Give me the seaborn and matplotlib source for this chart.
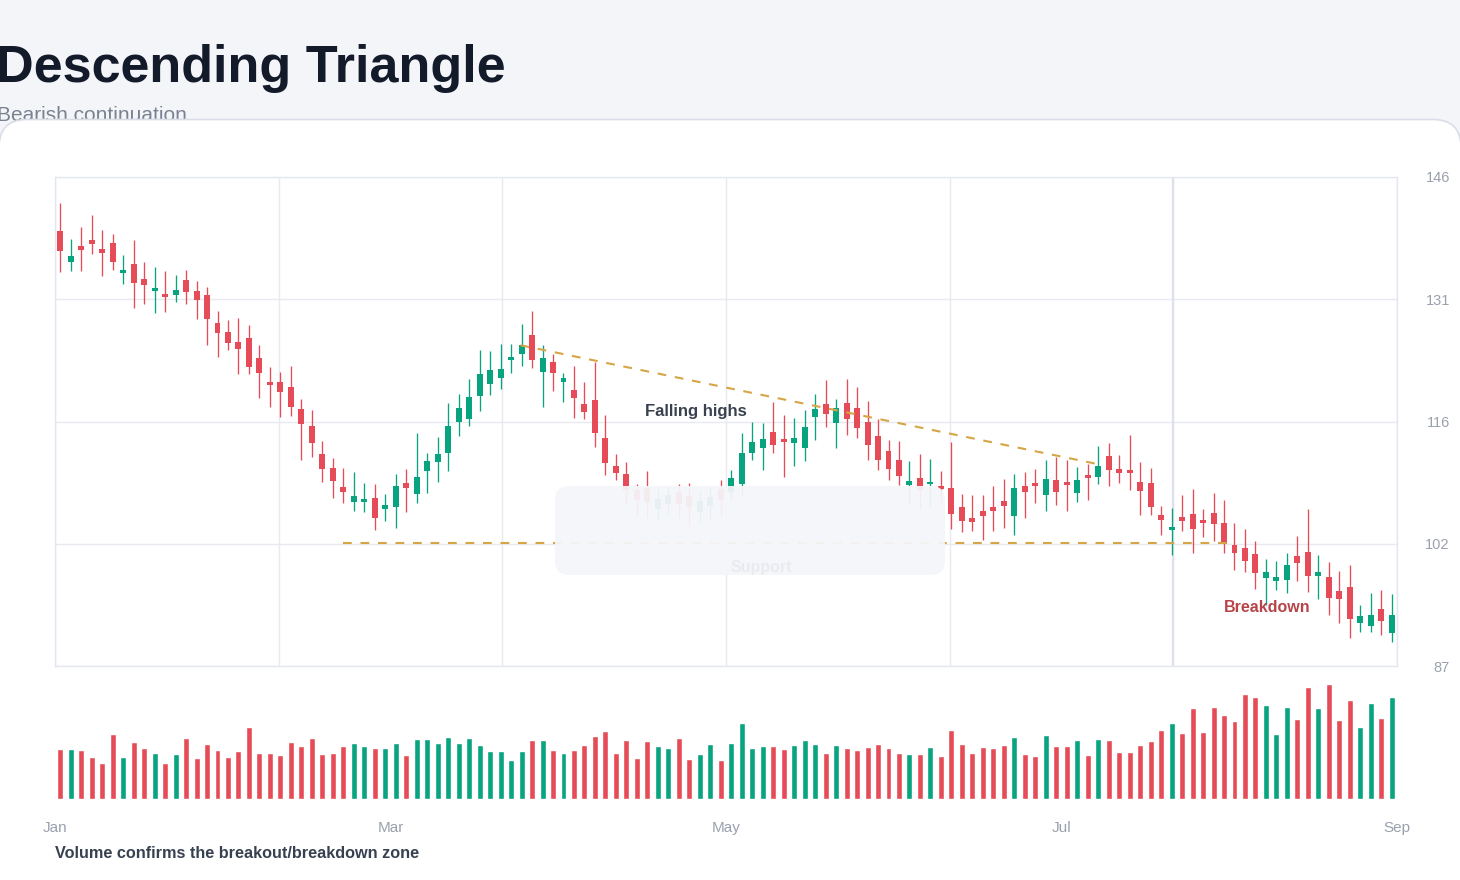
import numpy as np
import pandas as pd
import matplotlib
matplotlib.use("Agg")
import matplotlib.pyplot as plt
import seaborn as sns
from matplotlib.patches import FancyBboxPatch
from matplotlib.transforms import IdentityTransform

# ---------------- data ----------------
opens = [139.49, 135.79, 137.68, 138.40, 137.32, 138.04, 134.42, 135.51, 133.70, 132.25,
         131.89, 131.77, 133.57, 132.25, 131.77, 128.39, 127.30, 126.09, 126.58, 124.17,
         121.27, 121.27, 120.66, 118.01, 115.96, 112.58, 110.89, 108.60, 106.79, 106.79,
         107.27, 105.94, 106.19, 109.08, 107.75, 110.53, 111.61, 112.70, 116.44, 116.80,
         119.58, 121.02, 121.75, 123.92, 124.64, 126.94, 122.47, 123.68, 121.27, 120.30,
         118.61, 119.09, 114.51, 111.13, 110.16, 108.20, 108.50, 106.00, 106.50, 108.00,
         107.50, 105.60, 106.30, 108.30, 108.00, 108.96, 112.70, 113.30, 115.23, 114.39,
         113.91, 113.30, 117.04, 118.61, 116.32, 118.73, 118.13, 116.44, 114.75, 112.94,
         111.85, 108.84, 109.68, 108.90, 108.70, 108.47, 106.18, 104.86, 105.70, 106.18,
         106.91, 105.10, 108.72, 109.08, 107.63, 109.44, 109.20, 107.87, 110.04, 109.80,
         112.34, 110.77, 110.65, 109.20, 109.11, 105.22, 103.41, 104.97, 105.34, 104.61,
         105.46, 104.25, 101.60, 101.23, 100.51, 97.62, 97.25, 97.37, 100.27, 100.75,
         97.86, 97.74, 96.05, 96.53, 92.19, 91.82, 93.88, 90.98]
highs = [142.86, 138.52, 139.97, 141.42, 139.61, 139.13, 136.59, 138.40, 135.75, 135.14,
         134.66, 134.18, 134.78, 133.45, 132.73, 129.83, 128.75, 128.99, 128.15, 125.74,
         123.08, 122.47, 123.20, 119.22, 117.89, 114.15, 112.10, 110.89, 110.41, 109.08,
         108.96, 107.75, 110.16, 110.77, 115.11, 112.70, 114.63, 118.73, 119.82, 121.63,
         125.13, 125.01, 125.85, 125.85, 128.26, 129.83, 125.73, 124.64, 122.35, 123.20,
         121.27, 123.68, 117.28, 112.58, 111.61, 109.00, 110.53, 108.30, 108.60, 108.96,
         109.08, 108.10, 108.50, 109.44, 110.65, 115.11, 116.44, 116.32, 118.85, 117.28,
         116.92, 117.89, 119.82, 121.51, 119.21, 121.63, 120.66, 118.97, 116.76, 114.27,
         114.15, 111.73, 112.58, 111.97, 110.53, 114.03, 107.75, 107.63, 107.63, 108.72,
         109.56, 110.16, 110.41, 110.77, 111.85, 112.22, 111.85, 111.01, 111.37, 113.54,
         113.90, 112.46, 114.87, 111.61, 110.84, 106.30, 106.06, 107.63, 108.35, 105.94,
         107.87, 107.03, 104.25, 103.53, 102.08, 99.91, 99.67, 100.63, 102.68, 105.94,
         100.39, 99.55, 98.46, 99.18, 94.36, 95.81, 96.17, 95.69]
lows = [134.58, 134.66, 134.66, 136.71, 134.06, 134.78, 133.09, 130.20, 130.68, 129.59,
        129.71, 130.92, 130.68, 128.87, 125.73, 124.28, 125.13, 122.23, 122.23, 119.34,
        118.25, 117.04, 117.16, 111.86, 112.22, 109.20, 107.27, 106.67, 105.70, 105.58,
        103.41, 104.49, 103.65, 105.58, 106.67, 107.87, 109.20, 110.53, 114.75, 115.96,
        117.77, 119.70, 120.42, 122.35, 123.20, 122.95, 118.25, 120.18, 118.85, 116.92,
        116.80, 113.42, 110.04, 109.44, 106.50, 105.20, 104.90, 104.60, 105.30, 104.80,
        103.90, 104.20, 104.70, 105.00, 107.00, 107.60, 111.85, 110.65, 112.70, 109.80,
        111.13, 111.73, 114.27, 115.84, 113.30, 114.87, 114.51, 111.85, 110.65, 109.44,
        108.84, 106.50, 106.00, 106.30, 106.80, 103.53, 103.17, 103.29, 102.20, 103.29,
        103.65, 102.80, 104.86, 106.67, 105.70, 106.43, 105.70, 106.79, 107.03, 108.96,
        108.72, 109.08, 108.23, 105.22, 105.20, 102.80, 100.39, 103.29, 100.63, 102.56,
        102.08, 100.63, 98.58, 98.34, 96.29, 94.36, 96.17, 95.81, 97.25, 95.93,
        95.08, 93.15, 92.19, 90.38, 91.10, 91.10, 90.74, 89.89]
closes = [137.11, 136.47, 137.19, 137.92, 136.83, 135.75, 134.78, 133.21, 132.97, 132.61,
          131.52, 132.37, 132.13, 131.16, 128.87, 127.18, 125.97, 125.25, 123.08, 122.36,
          120.91, 120.06, 118.25, 116.20, 113.91, 110.77, 109.32, 107.99, 107.51, 107.15,
          104.86, 106.43, 108.72, 108.48, 109.80, 111.73, 112.58, 115.96, 118.13, 119.46,
          122.23, 122.71, 122.83, 124.28, 125.73, 123.92, 124.16, 122.35, 121.75, 119.34,
          117.65, 115.11, 111.49, 110.29, 108.23, 107.00, 106.80, 107.20, 107.60, 106.60,
          106.20, 106.90, 107.40, 107.00, 109.68, 112.70, 114.03, 114.39, 113.66, 114.03,
          114.51, 115.84, 118.01, 117.40, 118.13, 116.80, 115.72, 113.66, 111.89, 110.77,
          109.96, 109.32, 108.20, 109.10, 108.30, 105.34, 104.49, 104.37, 105.10, 105.70,
          106.30, 108.48, 107.99, 108.72, 109.56, 107.99, 108.84, 109.44, 109.68, 111.13,
          110.65, 110.29, 110.29, 108.11, 106.20, 104.61, 103.77, 104.49, 103.53, 104.25,
          104.13, 101.72, 100.63, 99.67, 98.22, 98.34, 97.74, 99.18, 99.43, 97.86,
          98.34, 95.20, 95.08, 92.67, 93.03, 93.15, 92.43, 93.15]
volumes = [149, 149, 146, 125, 107, 194, 125, 170, 152, 137,
           107, 134, 182, 122, 164, 146, 125, 143, 215, 137,
           137, 131, 170, 158, 182, 134, 137, 158, 167, 158,
           152, 152, 167, 131, 179, 179, 167, 185, 167, 182,
           161, 143, 143, 116, 143, 176, 176, 146, 137, 146,
           161, 188, 203, 137, 176, 122, 173, 158, 152, 182,
           119, 134, 164, 116, 167, 227, 152, 158, 158, 149,
           161, 176, 164, 137, 161, 152, 146, 155, 164, 152,
           137, 134, 134, 155, 128, 206, 164, 137, 155, 152,
           161, 185, 134, 128, 191, 158, 158, 176, 131, 179,
           176, 140, 140, 161, 173, 206, 227, 197, 272, 200,
           275, 251, 233, 314, 305, 281, 194, 275, 239, 335,
           272, 344, 236, 296, 215, 287, 242, 305]

month_labels = ["Jan", "Mar", "May", "Jul", "Sep"]
price_ticks = [87, 101.75, 116.5, 131.25, 146]
price_tick_labels = ["87", "102", "116", "131", "146"]
support_level = 101.8
support_span = [27, 111.7]
trend_x = [43.9, 99.2]
trend_y = [125.7, 111.3]

# ---------------- style ----------------
RED = "#e64c57"
GREEN = "#08a47f"
GOLD = "#d6a546"
GRID = "#e8eaf0"
TICK = "#9aa1ad"

sns.set_theme(style="white")
plt.rcParams['font.family'] = ['Liberation Sans', 'DejaVu Sans']

W, H = 1460, 880
fig = plt.figure(figsize=(W / 100, H / 100), dpi=100, facecolor="#f4f5f9")


def frac(x0, y0, x1, y1):
    return [x0 / W, 1 - y1 / H, (x1 - x0) / W, (y1 - y0) / H]


# header
fig.text(-4 / W, 1 - 82 / H, "Descending Triangle", fontsize=37.5, fontweight="bold",
         color="#131a2a", va="baseline", ha="left", zorder=3)
fig.text(-3 / W, 1 - 121 / H, "Bearish continuation", fontsize=15, color="#7b8190",
         va="baseline", ha="left", zorder=0.5)

# card
card = FancyBboxPatch((-1, -60), W + 2, (H - 119.5) + 60,
                      boxstyle="round,pad=0,rounding_size=28",
                      transform=IdentityTransform(), facecolor="white",
                      edgecolor="#d9dde8", lw=1.2, zorder=1)
fig.patches.append(card)

# ---------------- price panel ----------------
o = np.array(opens); h = np.array(highs); l = np.array(lows); c = np.array(closes)
idx = np.arange(len(o))
up = c >= o
cols = np.where(up, GREEN, RED)

ax = fig.add_axes(frac(55, 177, 1397, 666), zorder=2)
ax.set_facecolor("white")
ax.vlines(idx, l, h, colors=cols, lw=0.95, zorder=3)
body_lo = np.minimum(o, c)
body_h = np.maximum(np.abs(c - o), 0.3)
ax.bar(idx, body_h, bottom=body_lo, width=0.57, color=cols, zorder=4, linewidth=0)

ax.set_xlim(-0.5, len(o) - 0.5)
ax.set_ylim(87, 146)
ax.set_xticks(np.linspace(-0.5, len(o) - 0.5, 7))
ax.set_yticks(price_ticks, price_tick_labels)
ax.yaxis.tick_right()
ax.grid(True, color=GRID, lw=1, zorder=0)
ax.tick_params(axis="x", bottom=False, labelbottom=False)
ax.tick_params(axis="y", length=0, pad=38, labelsize=10.5, labelcolor=TICK)
for lab in ax.get_yticklabels():
    lab.set_horizontalalignment("right")
for s in ax.spines.values():
    s.set_color("#e4e7ee")
    s.set_linewidth(1)
# emphasised vertical marker
ax.axvline(np.linspace(-0.5, len(o) - 0.5, 7)[5], color="#dde1ea", lw=1.6, zorder=1)

# pattern lines
ax.plot(support_span, [support_level, support_level], ls=(0, (4.2, 4.2)), lw=1.5,
        color=GOLD, zorder=5)
ax.plot(trend_x, trend_y, ls=(0, (4.2, 4.2)), lw=1.5, color=GOLD, zorder=5)
ax.text(60.6, 117.7, "Falling highs", ha="center", va="center", fontsize=12,
        fontweight="bold", color="#394150", zorder=6)
ax.text(115.1, 94.0, "Breakdown", ha="center", va="center", fontsize=11.5,
        fontweight="bold", color="#b8444a", zorder=6)
ax.text(66.9, 98.9, "Support", ha="center", va="center", fontsize=11.5,
        fontweight="bold", color="#394150", zorder=6)

# overlay panel
overlay = FancyBboxPatch((555, H - 575), 390, 89, boxstyle="round,pad=0,rounding_size=14",
                         transform=IdentityTransform(), facecolor="#f5f6fa",
                         edgecolor="none", alpha=0.94, zorder=2.5)
fig.patches.append(overlay)

# ---------------- volume panel ----------------
axv = fig.add_axes(frac(55, 680, 1397, 799), zorder=2)
vdf = pd.DataFrame({"i": idx, "volume": volumes,
                    "dir": np.where(up, "up", "down")})
sns.barplot(data=vdf, x="i", y="volume", hue="dir", palette={"up": GREEN, "down": RED},
            width=0.57, dodge=False, saturation=1, errorbar=None, legend=False, ax=axv)
axv.set_facecolor("none")
axv.set_xlim(-0.5, len(o) - 0.5)
axv.set_ylim(0, 356)
axv.set_xticks(np.linspace(-0.5, len(o) - 0.5, 5), month_labels)
axv.set_yticks([])
axv.set_xlabel("")
axv.set_ylabel("")
axv.tick_params(axis="x", length=0, pad=16, labelsize=11, labelcolor=TICK)
for s in axv.spines.values():
    s.set_visible(False)

fig.text(55 / W, 1 - 853 / H, "Volume confirms the breakout/breakdown zone", fontsize=11.7,
         fontweight="bold", color="#374151", va="center", ha="left", zorder=3)

fig.savefig("out.png", dpi=100, facecolor=fig.get_facecolor())
